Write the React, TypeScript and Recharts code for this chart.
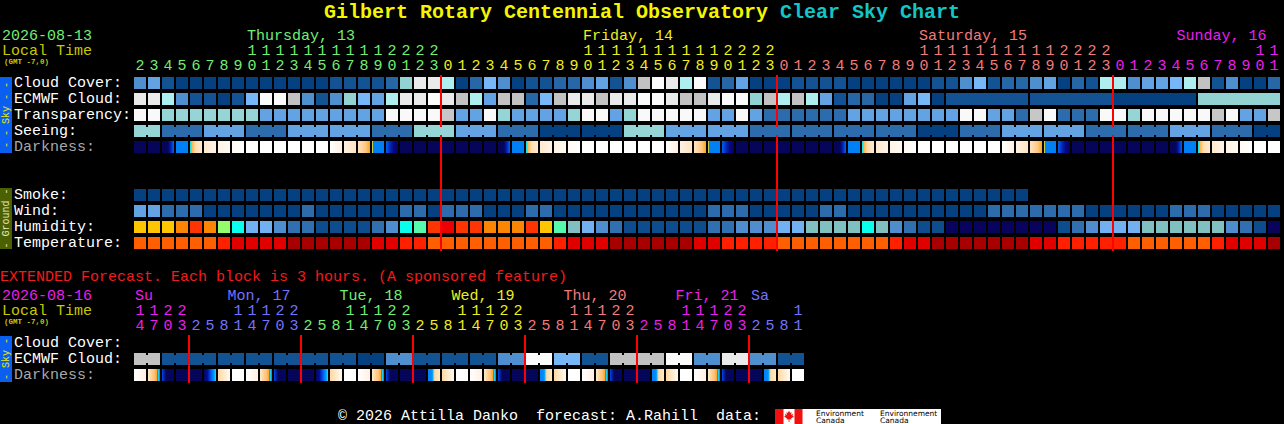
import React from 'react';
import { ScatterChart, Scatter, XAxis, YAxis, ReferenceLine } from 'recharts';

const FONT = "'Liberation Mono', 'DejaVu Sans Mono', monospace";
const FS = 15;

// ---------------- main forecast: one column per hour ----------------
const HOURS = [
  2, 3, 4, 5, 6, 7, 8, 9, 10, 11, 12, 13, 14, 15, 16, 17, 18, 19, 20, 21, 22, 23,
  0, 1, 2, 3, 4, 5, 6, 7, 8, 9, 10, 11, 12, 13, 14, 15, 16, 17, 18, 19, 20, 21, 22, 23,
  0, 1, 2, 3, 4, 5, 6, 7, 8, 9, 10, 11, 12, 13, 14, 15, 16, 17, 18, 19, 20, 21, 22, 23,
  0, 1, 2, 3, 4, 5, 6, 7, 8, 9, 10, 11,
];
const DAYS = [
  { label: 'Thursday, 13', at: 8, color: '#72EE72' },
  { label: 'Friday, 14', at: 32, color: '#EEEE1E' },
  { label: 'Saturday, 15', at: 56, color: '#F47A7A' },
  { label: 'Sunday, 16', at: 74.4, color: '#EE1EEE' },
];
const MIDNIGHTS = [22, 46, 70];
const ECMWF_6H_FROM = 58;

// cloud levels 0 (clear) .. 10 (overcast)
const CLOUD_COVER = [
  3, 4, 1, 0, 0, 0, 0, 0, 0, 0, 0, 0, 0, 0, 1, 1, 1, 1, 2, 6, 9, 9,
  7, 0, 2, 5, 3, 0, 1, 1, 2, 2, 3, 4, 1, 3, 8, 10, 9, 7, 10, 1, 2, 4, 0, 0,
  0, 1, 1, 1, 1, 0, 0, 0, 0, 0, 0, 1, 1, 3, 5, 1, 2, 2, 3, 4, 0, 2, 1, 7,
  7, 3, 4, 4, 5, 7, 8, 1, 3, 0, 0, 2,
];
const ECMWF_CLOUD = [
  9, 9, 7, 3, 1, 1, 0, 1, 5, 10, 10, 8, 3, 1, 3, 6, 5, 4, 7, 9, 9, 10,
  9, 8, 7, 4, 8, 8, 2, 5, 8, 9, 9, 8, 9, 9, 10, 10, 9, 8, 8, 9, 10, 10, 6, 8,
  7, 8, 7, 4, 1, 2, 2, 0, 0, 4, 5, 0, 1, 1, 1, 1, 1, 1, 1, 1, 1, 1, 1, 1,
  0, 0, 0, 0, 0, 0, 6, 6, 6, 6, 6, 6,
];
// 0 too cloudy .. 5 best
const TRANSPARENCY = [
  0, 0, 2, 2, 2, 2, 2, 2, 2, 3, 3, 3, 3, 3, 3, 3, 3, 3, 0, 0, 0, 0,
  1, 3, 3, 0, 2, 3, 3, 3, 3, 2, 0, 0, 3, 2, 0, 0, 0, 0, 0, 3, 3, 0, 3, 4,
  4, 4, 4, 4, 4, 3, 3, 3, 3, 3, 3, 3, 3, 0, 0, 3, 3, 4, 1, 0, 4, 4, 4, 0,
  0, 2, 0, 0, 0, 0, 0, 1, 0, 3, 3, 1,
];
const SEEING = [
  2, 2, 4, 4, 4, 3, 3, 3, 4, 4, 4, 3, 3, 3, 3, 3, 3, 4, 4, 4, 2, 2,
  2, 3, 3, 3, 4, 4, 4, 5, 5, 5, 5, 5, 5, 2, 2, 2, 3, 3, 3, 3, 3, 3, 4, 4,
  4, 4, 4, 4, 4, 4, 4, 4, 4, 4, 5, 5, 5, 4, 4, 4, 3, 3, 3, 3, 3, 3, 4, 4,
  4, 4, 4, 4, 3, 3, 3, 4, 4, 4, 5, 5,
];
const DARKNESS = [
  'n', 'n', 'nb', 'b', 'sr', 'p1', 'p2', 'p3', 'w', 'w', 'w', 'w', 'w', 'w', 'q3', 'q2', 'ss', 'bs', 'bn', 'n', 'n', 'n',
  'n', 'n', 'n', 'n', 'nb', 'b', 'sr', 'p1', 'p2', 'p3', 'w', 'w', 'w', 'w', 'w', 'w', 'q3', 'q2', 'ss', 'bs', 'bn', 'n', 'n', 'n',
  'n', 'n', 'n', 'n', 'nb', 'b', 'sr', 'p1', 'p2', 'p3', 'w', 'w', 'w', 'w', 'w', 'w', 'q3', 'q2', 'ss', 'bs', 'bn', 'n', 'n', 'n',
  'n', 'n', 'n', 'n', 'nb', 'b', 'sr', 'p1', 'p2', 'p3', 'w', 'w',
];
const SMOKE = [
  0, 0, 0, 0, 0, 0, 0, 0, 0, 0, 0, 0, 0, 0, 0, 0, 0, 0, 0, 0, 0, 0,
  0, 0, 0, 0, 0, 0, 0, 0, 0, 0, 0, 0, 0, 0, 0, 0, 0, 0, 0, 0, 0, 0, 0, 0,
  0, 0, 0, 0, 0, 0, 0, 0, 0, 0, 0, 0, 0, 0, 0, 0, 0, 0, null, null, null, null, null, null,
  null, null, null, null, null, null, null, null, null, null, null, null,
];
const WIND = [
  2, 2, 1, 1, 1, 0, 0, 0, 0, 0, 0, 0, 1, 0, 0, 0, 0, 0, 0, 1, 1, 0,
  1, 1, 1, 0, 0, 0, 1, 1, 0, 0, 0, 0, 0, 0, 0, 0, 0, 0, 0, 1, 1, 1, 0, 0,
  0, 0, 0, 1, 1, 0, 0, 0, 0, 0, 0, 0, 0, 0, 0, 1, 1, 1, 1, 1, 1, 1, 0, 0,
  0, 0, 0, 0, 1, 1, 1, 0, 0, 0, 0, 0,
];
const HUMIDITY = [
  10, 10, 10, 11, 12, 11, 8, 6, 4, 4, 3, 2, 2, 1, 1, 1, 1, 2, 3, 6, 7, 12,
  13, 12, 12, 11, 11, 11, 12, 10, 7, 5, 4, 3, 2, 1, 1, 1, 1, 1, 1, 2, 2, 3, 3, 3,
  4, 4, 5, 5, 5, 5, 6, 5, 3, 2, 1, 1, 0, 0, 0, 0, 0, 0, 0, 0, 1, 2, 3, 4,
  4, 4, 5, 5, 5, 5, 5, 5, 3, 2, 1, 0,
];
const TEMPERATURE = [
  0, 0, 0, 0, 0, 0, 1, 2, 2, 2, 2, 3, 3, 3, 3, 3, 3, 2, 2, 1, 1, 0,
  0, 0, 0, 0, 0, 0, 0, 0, 1, 2, 2, 2, 3, 3, 3, 3, 3, 3, 2, 2, 1, 1, 1, 1,
  0, 0, 0, 0, 0, 0, 0, 0, 1, 2, 2, 3, 3, 3, 3, 3, 3, 3, 2, 2, 1, 1, 1, 1,
  1, 0, 0, 0, 0, 0, 0, 1, 2, 2, 2, 3,
];

// ---------------- extended forecast: one column per 3 hours ----------------
const EXT_HOURS = [
  14, 17, 20, 23,
  2, 5, 8, 11, 14, 17, 20, 23,
  2, 5, 8, 11, 14, 17, 20, 23,
  2, 5, 8, 11, 14, 17, 20, 23,
  2, 5, 8, 11, 14, 17, 20, 23,
  2, 5, 8, 11, 14, 17, 20, 23,
  2, 5, 8, 11,
];
const EXT_DAYS = [
  { label: 'Su', at: 0, color: '#EE1EEE' },
  { label: 'Mon, 17', at: 6.6, color: '#7373FF' },
  { label: 'Tue, 18', at: 14.6, color: '#72EE72' },
  { label: 'Wed, 19', at: 22.6, color: '#EEEE1E' },
  { label: 'Thu, 20', at: 30.6, color: '#F47A7A' },
  { label: 'Fri, 21', at: 38.6, color: '#EE1EEE' },
  { label: 'Sa', at: 44, color: '#7373FF' },
];
const EXT_MIDNIGHTS = [4, 12, 20, 28, 36, 44];
const EXT_ECMWF = [
  8, 8, 1, 1, 1, 1, 1, 1, 1, 1, 1, 1, 1, 1, 1, 1, 0, 0, 3, 3, 1, 1, 1, 1,
  1, 1, 3, 3, 10, 10, 5, 5, 1, 1, 8, 8, 8, 8, 10, 10, 3, 3, 9, 9, 3, 3, 1, 1,
];
const EXT_DARKNESS = [
  'q3', 'ssx', 'bn2', 'n', 'n', 'nbx', 'srx', 'w', 'q3', 'ssx', 'bn2', 'n',
  'n', 'nbx', 'srx', 'w', 'q3', 'ssx', 'bn2', 'n', 'n', 'bpx', 'srx', 'w',
  'q3', 'ssx', 'bn2', 'n', 'n', 'bpx', 'srx', 'w', 'q3', 'ssx', 'bn2', 'n',
  'n', 'bpx', 'srx', 'w', 'q3', 'ssx', 'bn2', 'n', 'n', 'bpx', 'srx', 'w',
];

// ---------------- styles ----------------
const CLOUD_COLORS = ['#054080', '#135393', '#2767A7', '#4F8FCF', '#63A3E3', '#77B7F7', '#92D2D2', '#AEEEEE', '#C2C2C2', '#EAEAEA', '#FBFBFB'];
const RATING_COLORS = ['#F9F9F9', '#C7C7C7', '#95D5D5', '#63A3E3', '#2C6CAC', '#054080'];
const WIND_COLORS = ['#054080', '#2C6CAC', '#63A3E3', '#95D5D5', '#C7C7C7', '#F9F9F9'];
const SMOKE_COLORS = ['#054080'];
const HUMIDITY_COLORS = ['#08035D', '#0D4D8D', '#3070B0', '#4E8ECE', '#71B1F1', '#80C0C0', '#09FEED', '#55FAAD', '#94FE6A', '#EAFB16', '#FEC600', '#FC8602', '#FE3401', '#EA0000', '#B70000', '#E10000'];
const TEMP_COLORS = ['#FF5F00', '#FF2000', '#E00000', '#A80000'];
const NAVY = '#05055A';
const DARK_SOLID: Record<string, string> = { n: NAVY, b: '#0080F4', w: '#FFFFFF' };
const DARK_GRAD: Record<string, [string, string][]> = {
  nb: [['0%', NAVY], ['50%', NAVY], ['72%', '#0020B0'], ['100%', '#0068F0']],
  sr: [['0%', '#20E0E0'], ['10%', '#20E0E0'], ['14%', '#FFB040'], ['45%', '#FFDDB0'], ['100%', '#FFEBD2']],
  p1: [['0%', '#FFEAD0'], ['100%', '#FFF3E6']],
  p2: [['0%', '#FFF3E6'], ['100%', '#FFFAF5']],
  p3: [['0%', '#FFFAF5'], ['100%', '#FFFFFF']],
  q3: [['0%', '#FFFFFF'], ['100%', '#FFF1E2']],
  q2: [['0%', '#FFF0E0'], ['100%', '#FFE4C4']],
  ss: [['0%', '#FFE4C0'], ['65%', '#FFC880'], ['100%', '#FFA020']],
  bs: [['0%', '#C8D040'], ['9%', '#C8D040'], ['12%', '#0080F4'], ['100%', '#0080F4']],
  bn: [['0%', '#0060F0'], ['30%', '#0030C0'], ['60%', '#08088A'], ['100%', NAVY]],
  bn2: [['0%', '#0050E0'], ['15%', '#0020B0'], ['35%', NAVY], ['100%', NAVY]],
  nbx: [['0%', NAVY], ['30%', '#0010A0'], ['60%', '#0060F0'], ['85%', '#00A0FF'], ['100%', '#20E0F0']],
  bpx: [['0%', '#0080F4'], ['35%', '#0090FF'], ['45%', '#20E0F0'], ['55%', '#FFD8A0'], ['100%', '#FFEAD0']],
  srx: [['0%', '#FFD8A0'], ['100%', '#FFFAF5']],
  ssx: [['0%', '#FFE8C8'], ['55%', '#FFC070'], ['75%', '#FFA020'], ['80%', '#0090FF'], ['90%', '#20E0F0'], ['100%', '#0060F0']],
};
const darkFill = (code: string) => (DARK_SOLID[code] ? DARK_SOLID[code] : `url(#dk-${code})`);

// ---------------- geometry ----------------
const W = 1284;
const LEFT = 133;
const MAIN_PLOT_W = 1148;
const EXT_PLOT_W = 672;
const ROW_PX = 16;
const CELL = 12;
const MAIN_PITCH = MAIN_PLOT_W / HOURS.length;
const EXT_PITCH = EXT_PLOT_W / EXT_HOURS.length;

type Pt = { x: number; y: number; fill: string; join?: 'notch' | 'full' };

function buildRow(values: any[], colorOf: (v: any) => string, pos: number, joinOf?: (i: number) => 'notch' | 'full' | undefined): Pt[] {
  const pts: Pt[] = [];
  values.forEach((v, i) => {
    if (v === null || v === undefined) return;
    pts.push({ x: i + 0.5, y: pos + 0.5, fill: colorOf(v), join: joinOf ? joinOf(i) : undefined });
  });
  return pts;
}

function dayIndexOf(hours: number[]) {
  const out: number[] = [];
  let d = 0;
  hours.forEach((h, i) => {
    if (i > 0 && h < hours[i - 1]) d += 1;
    out.push(d);
  });
  return out;
}
const MAIN_DAY_OF = dayIndexOf(HOURS);
const EXT_DAY_OF = dayIndexOf(EXT_HOURS);

const MAIN_ROWS = [
  { label: 'Cloud Cover:', pos: 0, color: '#FFFFFF', pts: buildRow(CLOUD_COVER, (v) => CLOUD_COLORS[v], 0) },
  {
    label: 'ECMWF Cloud:', pos: 1, color: '#FFFFFF',
    pts: buildRow(ECMWF_CLOUD, (v) => CLOUD_COLORS[v], 1, (i) =>
      i >= ECMWF_6H_FROM && i + 1 < HOURS.length && HOURS[i + 1] % 6 !== 0 ? 'full' : undefined),
  },
  { label: 'Transparency:', pos: 2, color: '#FFFFFF', pts: buildRow(TRANSPARENCY, (v) => RATING_COLORS[v], 2) },
  {
    label: 'Seeing:', pos: 3, color: '#FFFFFF',
    pts: buildRow(SEEING, (v) => RATING_COLORS[v], 3, (i) =>
      i + 1 < HOURS.length && HOURS[i + 1] % 3 !== 1 ? 'notch' : undefined),
  },
  { label: 'Darkness:', pos: 4, color: '#A8A8A8', pts: buildRow(DARKNESS, darkFill, 4) },
  { label: 'Smoke:', pos: 7, color: '#FFFFFF', pts: buildRow(SMOKE, (v) => SMOKE_COLORS[v], 7) },
  { label: 'Wind:', pos: 8, color: '#FFFFFF', pts: buildRow(WIND, (v) => WIND_COLORS[v], 8) },
  { label: 'Humidity:', pos: 9, color: '#FFFFFF', pts: buildRow(HUMIDITY, (v) => HUMIDITY_COLORS[v], 9) },
  { label: 'Temperature:', pos: 10, color: '#FFFFFF', pts: buildRow(TEMPERATURE, (v) => TEMP_COLORS[v], 10) },
];

const EXT_ROWS = [
  { label: 'Cloud Cover:', pos: 0, color: '#FFFFFF', pts: [] as Pt[] },
  {
    label: 'ECMWF Cloud:', pos: 1, color: '#FFFFFF',
    pts: buildRow(EXT_ECMWF, (v) => CLOUD_COLORS[v], 1, (i) => (i % 2 === 0 ? 'notch' : undefined)),
  },
  { label: 'Darkness:', pos: 2, color: '#A8A8A8', pts: buildRow(EXT_DARKNESS, darkFill, 2) },
];

function cellShape(pitch: number) {
  return (props: any) => {
    const { cx, cy, payload } = props;
    if (typeof cx !== 'number' || typeof cy !== 'number') return <g />;
    const h = CELL / 2;
    const gap = pitch - CELL;
    return (
      <g>
        <rect x={cx - h} y={cy - h} width={CELL} height={CELL} fill={payload.fill} />
        {payload.join === 'notch' ? (
          <rect x={cx + h - 0.5} y={cy - h + 2} width={gap + 1} height={CELL - 4} fill={payload.fill} />
        ) : null}
        {payload.join === 'full' ? (
          <rect x={cx + h - 0.5} y={cy - h} width={gap + 1} height={CELL} fill={payload.fill} />
        ) : null}
      </g>
    );
  };
}

function hourTick(hours: number[], dayOf: number[], days: { label: string; at: number; color: string }[]) {
  return (props: any) => {
    const { x, y, payload } = props;
    const v = payload.value;
    const day = days.find((d) => Math.abs(d.at - v) < 1e-6);
    if (day) {
      return (
        <text x={x + 2} y={y - 35} fill={day.color} fontFamily={FONT} fontSize={FS}>
          {day.label}
        </text>
      );
    }
    const i = Math.round(v - 0.5);
    const hr = hours[i];
    if (hr === undefined) return <g />;
    const c = days[dayOf[i]].color;
    return (
      <g>
        {hr >= 10 ? (
          <text x={x} y={y - 20} fill={c} textAnchor="middle" fontFamily={FONT} fontSize={FS}>
            {String(Math.floor(hr / 10))}
          </text>
        ) : null}
        <text x={x} y={y - 5} fill={c} textAnchor="middle" fontFamily={FONT} fontSize={FS}>
          {String(hr % 10)}
        </text>
      </g>
    );
  };
}

function rowTick(rows: { label: string; pos: number; color: string }[]) {
  return (props: any) => {
    const { x, y, payload } = props;
    const row = rows.find((r) => Math.abs(r.pos + 0.5 - payload.value) < 1e-6);
    if (!row) return <g />;
    return (
      <text x={x - 119} y={y + 4} fill={row.color} fontFamily={FONT} fontSize={FS}>
        {row.label}
      </text>
    );
  };
}

function Gradients() {
  return (
    <svg width={0} height={0} style={{ position: 'absolute', left: 0, top: 0 }}>
      <defs>
        {Object.entries(DARK_GRAD).map(([k, stops]) => (
          <linearGradient key={k} id={`dk-${k}`} x1="0" y1="0" x2="1" y2="0">
            {stops.map(([o, c], j) => (
              <stop key={j} offset={o} stopColor={c} />
            ))}
          </linearGradient>
        ))}
      </defs>
    </svg>
  );
}

function SideBar({ y, h, fill, text, color }: { y: number; h: number; fill: string; text: string; color: string }) {
  const cy = y + h / 2;
  return (
    <g>
      <rect x={0} y={y} width={12} height={h} fill={fill} />
      <text
        x={6}
        y={cy}
        transform={`rotate(-90, 6, ${cy})`}
        textAnchor="middle"
        dominantBaseline="central"
        fill={color}
        fontFamily={FONT}
        fontSize={10}
        style={{ whiteSpace: 'pre' }}
      >
        {text}
      </text>
    </g>
  );
}

function Overlay() {
  const t = { fontFamily: FONT, fontSize: FS } as any;
  return (
    <svg width={W} height={424} style={{ position: 'absolute', left: 0, top: 0 }}>
      <text x={324} y={18} fontFamily={FONT} fontSize={20} fontWeight="bold" style={{ whiteSpace: 'pre' }}>
        <tspan fill="#F5F500">Gilbert Rotary Centennial Observatory </tspan>
        <tspan fill="#12C6C6">Clear Sky Chart</tspan>
      </text>
      <text x={2} y={40} fill="#72EE72" {...t}>2026-08-13</text>
      <text x={2} y={55} fill="#C8C800" {...t}>Local Time</text>
      <text x={4} y={64} fill="#C8C800" fontFamily={FONT} fontSize={7.5} fontWeight="bold">(GMT -7,0)</text>

      <SideBar y={77} h={76} fill="#0A5FF0" text="- - Sky - -" color="#F0E800" />
      <SideBar y={188} h={61} fill="#4B6000" text="- Ground -" color="#E6E6C8" />

      <text x={0} y={281} fill="#F21B1B" {...t}>EXTENDED Forecast. Each block is 3 hours. (A sponsored feature)</text>
      <text x={2} y={300} fill="#EE1EEE" {...t}>2026-08-16</text>
      <text x={2} y={315} fill="#C8C800" {...t}>Local Time</text>
      <text x={4} y={324} fill="#C8C800" fontFamily={FONT} fontSize={7.5} fontWeight="bold">(GMT -7,0)</text>
      <SideBar y={336} h={46} fill="#0A5FF0" text="- Sky -" color="#F0E800" />

      <text x={338} y={420} fill="#FFFFFF" {...t} style={{ whiteSpace: 'pre' }}>
        {'\u00A9 2026 Attilla Danko  forecast: A.Rahill  data: '}
      </text>
      <rect x={775} y={409} width={166} height={15} fill="#FFFFFF" />
      <rect x={775} y={409} width={8.5} height={15} fill="#F01010" />
      <rect x={794.5} y={409} width={8} height={15} fill="#F01010" />
      <polygon
        fill="#F01010"
        points="789,410.5 790,412.8 791.6,412.2 791,415 793,413.8 792.5,416 794,416.5 791,418.6 791.5,419.6 789.4,419.2 789.4,422 788.6,422 788.6,419.2 786.5,419.6 787,418.6 784,416.5 785.5,416 785,413.8 787,415 786.4,412.2 788,412.8"
      />
      <text x={816} y={415.5} fill="#000000" fontFamily="'DejaVu Sans', sans-serif" fontSize={7.5}>Environment</text>
      <text x={816} y={423} fill="#000000" fontFamily="'DejaVu Sans', sans-serif" fontSize={7.5}>Canada</text>
      <text x={880} y={415.5} fill="#000000" fontFamily="'DejaVu Sans', sans-serif" fontSize={7.5}>Environnement</text>
      <text x={880} y={423} fill="#000000" fontFamily="'DejaVu Sans', sans-serif" fontSize={7.5}>Canada</text>
    </svg>
  );
}

export default function App() {
  const mainXTicks = [...HOURS.map((_, i) => i + 0.5), ...DAYS.map((d) => d.at)];
  const extXTicks = [...EXT_HOURS.map((_, i) => i + 0.5), ...EXT_DAYS.map((d) => d.at)];
  const mainShape = cellShape(MAIN_PITCH);
  const extShape = cellShape(EXT_PITCH);
  const mainHeight = 75 + 11 * ROW_PX + 5;
  const extHeight = 73 + 3 * ROW_PX + 3;

  return (
    <div style={{ position: 'fixed', left: 0, top: 0, width: W, height: 424, background: '#000000', overflow: 'hidden' }}>
      <Gradients />
      <Overlay />
      <div style={{ position: 'absolute', left: 0, top: 0 }}>
        <ScatterChart width={W} height={mainHeight} margin={{ top: 0, right: W - LEFT - MAIN_PLOT_W, bottom: 5, left: 0 }}>
          <XAxis
            type="number"
            dataKey="x"
            domain={[0, HOURS.length]}
            orientation="top"
            height={75}
            ticks={mainXTicks}
            interval={0}
            tick={hourTick(HOURS, MAIN_DAY_OF, DAYS)}
            tickLine={false}
            axisLine={false}
            tickSize={0}
            tickMargin={0}
            allowDataOverflow
          />
          <YAxis
            type="number"
            dataKey="y"
            domain={[0, 11]}
            reversed
            width={LEFT}
            ticks={MAIN_ROWS.map((r) => r.pos + 0.5)}
            interval={0}
            tick={rowTick(MAIN_ROWS)}
            tickLine={false}
            axisLine={false}
            tickSize={0}
            tickMargin={0}
            allowDataOverflow
          />
          {MAIN_ROWS.map((r) => (
            <Scatter key={r.label} name={r.label} data={r.pts} shape={mainShape} isAnimationActive={false} />
          ))}
          {MIDNIGHTS.map((m) => (
            <ReferenceLine key={m} x={m} stroke="#FF0000" strokeWidth={2} />
          ))}
        </ScatterChart>
      </div>
      <div style={{ position: 'absolute', left: 0, top: 262 }}>
        <ScatterChart width={W} height={extHeight} margin={{ top: 0, right: W - LEFT - EXT_PLOT_W, bottom: 3, left: 0 }}>
          <XAxis
            type="number"
            dataKey="x"
            domain={[0, EXT_HOURS.length]}
            orientation="top"
            height={73}
            ticks={extXTicks}
            interval={0}
            tick={hourTick(EXT_HOURS, EXT_DAY_OF, EXT_DAYS)}
            tickLine={false}
            axisLine={false}
            tickSize={0}
            tickMargin={0}
            allowDataOverflow
          />
          <YAxis
            type="number"
            dataKey="y"
            domain={[0, 3]}
            reversed
            width={LEFT}
            ticks={EXT_ROWS.map((r) => r.pos + 0.5)}
            interval={0}
            tick={rowTick(EXT_ROWS)}
            tickLine={false}
            axisLine={false}
            tickSize={0}
            tickMargin={0}
            allowDataOverflow
          />
          {EXT_ROWS.map((r) => (
            <Scatter key={r.label} name={r.label} data={r.pts} shape={extShape} isAnimationActive={false} />
          ))}
          {EXT_MIDNIGHTS.map((m) => (
            <ReferenceLine key={m} x={m} stroke="#FF0000" strokeWidth={2} />
          ))}
        </ScatterChart>
      </div>
    </div>
  );
}
